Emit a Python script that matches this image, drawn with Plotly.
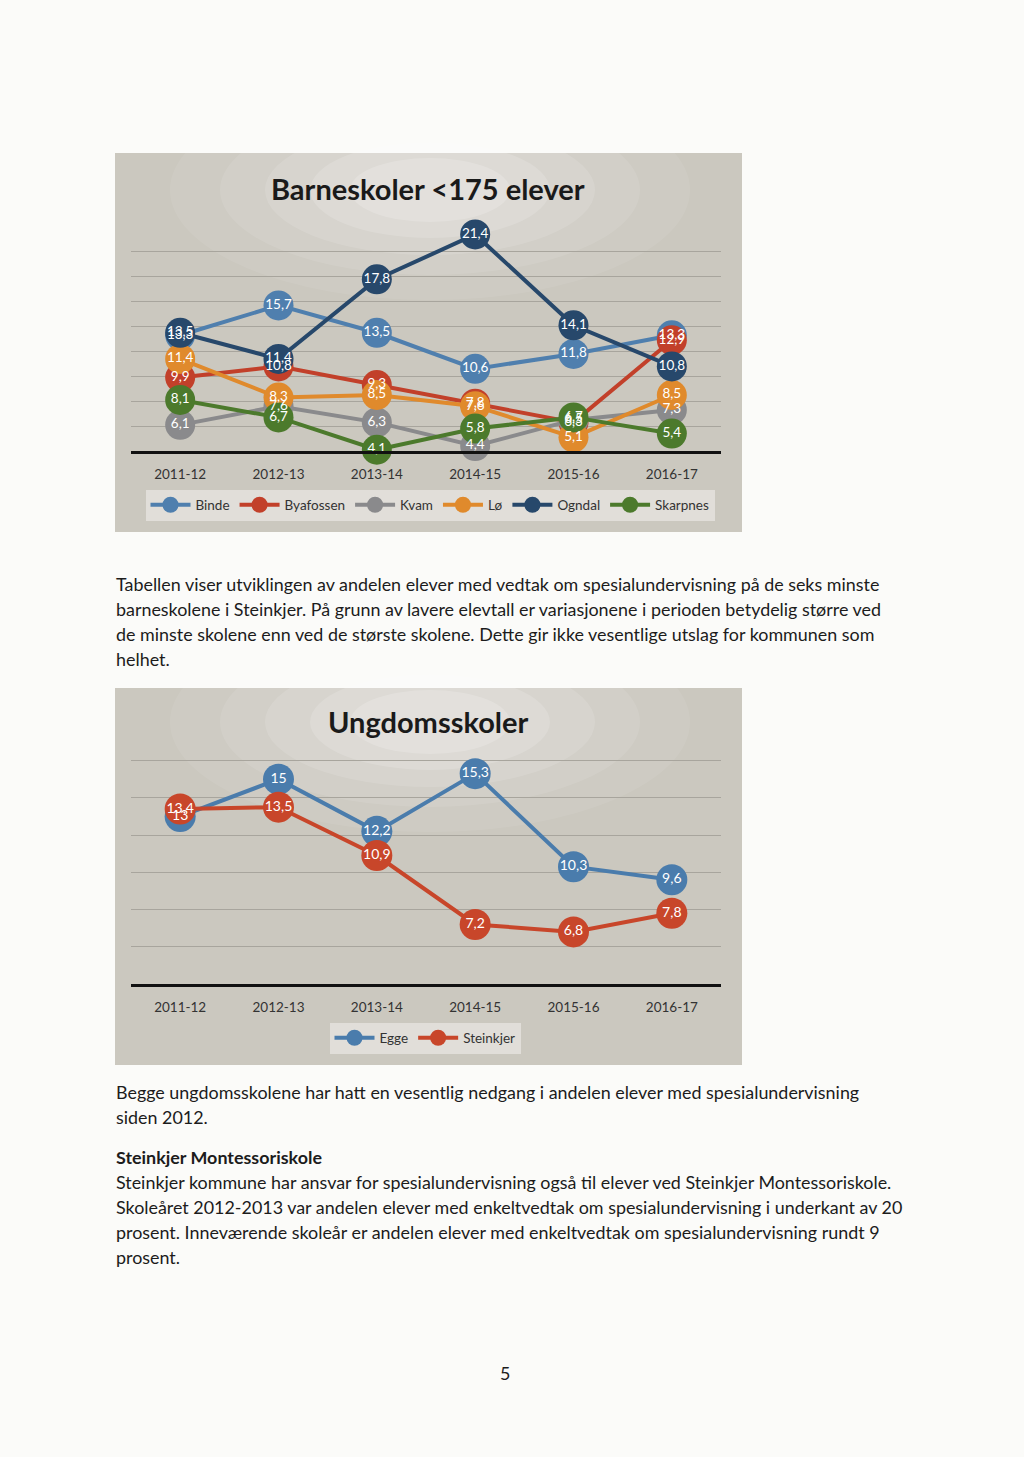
import plotly.graph_objects as go

W, H = 1024, 1457

years = ["2011-12", "2012-13", "2013-14", "2014-15", "2015-16", "2016-17"]

# Chart 1: Barneskoler <175 elever
binde = [13.3, 15.7, 13.5, 10.6, 11.8, 13.3]
byafossen = [9.9, 10.8, 9.3, 7.8, 6.3, 12.9]
kvam = [6.1, 7.6, 6.3, 4.4, 6.5, 7.3]
lo = [11.4, 8.3, 8.5, 7.6, 5.1, 8.5]
ogndal = [13.5, 11.4, 17.8, 21.4, 14.1, 10.8]
skarpnes = [8.1, 6.7, 4.1, 5.8, 6.7, 5.4]

# Chart 2: Ungdomsskoler
egge = [13.0, 15.0, 12.2, 15.3, 10.3, 9.6]
steinkjer = [13.4, 13.5, 10.9, 7.2, 6.8, 7.8]

series1 = [
    ("Binde", binde, "#4f7fae"),
    ("Byafossen", byafossen, "#c2402a"),
    ("Kvam", kvam, "#8a8a8c"),
    ("Lø", lo, "#e08a2c"),
    ("Ogndal", ogndal, "#27486b"),
    ("Skarpnes", skarpnes, "#4c7a2c"),
]
series2 = [
    ("Egge", egge, "#4a7cac"),
    ("Steinkjer", steinkjer, "#c8462a"),
]


def px(x):
    return x / W


def py(y):
    return 1 - y / H


def fmt(v):
    s = ("%g" % v)
    return s.replace(".", ",")


fig = go.Figure()

groups = [(series1, "x", "y", "legend", 30, 13.5), (series2, "x2", "y2", "legend2", 31, 14)]
for series, xa, ya, lg, msize, tsize in groups:
    for name, vals, col in series:
        fig.add_trace(go.Scatter(
            x=years, y=vals, name=name, mode="lines+markers",
            line=dict(color=col, width=4),
            marker=dict(color=col, size=msize),
            xaxis=xa, yaxis=ya, legend=lg, cliponaxis=False,
        ))
    # data labels drawn above all markers (as in the original)
    for name, vals, col in series:
        fig.add_trace(go.Scatter(
            x=years, y=vals, name=name, mode="text", showlegend=False,
            text=[fmt(v) for v in vals], textposition="middle center",
            textfont=dict(color="white", size=tsize, family="Lato"),
            xaxis=xa, yaxis=ya, cliponaxis=False, hoverinfo="skip",
        ))

shapes = []
# chart backgrounds
for (y0, y1, ty) in [(153, 532, 190), (688, 1065, 722)]:
    shapes.append(dict(type="rect", xref="paper", yref="paper", layer="below",
                       x0=px(115), x1=px(742), y0=py(y1), y1=py(y0),
                       fillcolor="#cbc8bf", line=dict(width=0)))
    for rx, ry, op in [(260, 110, 0.07), (210, 85, 0.09), (165, 65, 0.12), (120, 48, 0.15), (80, 32, 0.18)]:
        shapes.append(dict(type="circle", xref="paper", yref="paper", layer="below",
                           x0=px(430 - rx), x1=px(430 + rx), y0=py(ty + ry), y1=py(ty - ry),
                           fillcolor="rgba(255,255,255,%g)" % op, line=dict(width=0)))

axis_common = dict(
    type="category",
    showgrid=False, showline=True, linecolor="#111111", linewidth=2.5,
    ticks="outside", ticklen=9, tickcolor="rgba(0,0,0,0)",
    tickfont=dict(size=13.5, color="#333333", family="Lato"),
    range=[-0.5, 5.5], fixedrange=True,
)

fig.update_layout(
    width=W, height=H,
    margin=dict(l=0, r=0, t=0, b=0),
    paper_bgcolor="#fbfbf9",
    plot_bgcolor="rgba(0,0,0,0)",
    shapes=shapes,
    xaxis=dict(domain=[px(131), px(721)], anchor="y", **axis_common),
    yaxis=dict(domain=[py(451), py(227)], anchor="x", range=[4, 22], dtick=2, tick0=4,
               showgrid=True, gridcolor="#a8a59d", gridwidth=1, zeroline=False,
               showticklabels=False),
    xaxis2=dict(domain=[px(131), px(721)], anchor="y2", **axis_common),
    yaxis2=dict(domain=[py(984), py(742)], anchor="x2", range=[4, 17], dtick=2, tick0=4,
                showgrid=True, gridcolor="#a8a59d", gridwidth=1, zeroline=False,
                showticklabels=False),
    legend=dict(orientation="h", x=px(430), xanchor="center", y=py(505), yanchor="middle",
                bgcolor="rgba(232,230,225,0.75)", font=dict(size=13.5, color="#333333", family="Lato"),
                itemwidth=40, tracegroupgap=0),
    legend2=dict(orientation="h", x=px(425), xanchor="center", y=py(1038), yanchor="middle",
                 bgcolor="rgba(232,230,225,0.75)", font=dict(size=13.5, color="#333333", family="Lato"),
                 itemwidth=40),
    showlegend=True,
)

ann = []
ann.append(dict(text="<b>Barneskoler <175 elever</b>", x=px(428), y=py(188), xref="paper", yref="paper",
                showarrow=False, xanchor="center", yanchor="middle",
                font=dict(size=29, color="#1a1a1a", family="Lato")))
ann.append(dict(text="<b>Ungdomsskoler</b>", x=px(428), y=py(721), xref="paper", yref="paper",
                showarrow=False, xanchor="center", yanchor="middle",
                font=dict(size=29, color="#1a1a1a", family="Lato")))

para_lines = [
    (584, "Tabellen viser utviklingen av andelen elever med vedtak om spesialundervisning på de seks minste", False),
    (609, "barneskolene i Steinkjer. På grunn av lavere elevtall er variasjonene i perioden betydelig større ved", False),
    (634, "de minste skolene enn ved de største skolene. Dette gir ikke vesentlige utslag for kommunen som", False),
    (659, "helhet.", False),
    (1092, "Begge ungdomsskolene har hatt en vesentlig nedgang i andelen elever med spesialundervisning", False),
    (1117, "siden 2012.", False),
    (1157, "Steinkjer Montessoriskole", True),
    (1182, "Steinkjer kommune har ansvar for spesialundervisning også til elever ved Steinkjer Montessoriskole.", False),
    (1207, "Skoleåret 2012-2013 var andelen elever med enkeltvedtak om spesialundervisning i underkant av 20", False),
    (1232, "prosent. Inneværende skoleår er andelen elever med enkeltvedtak om spesialundervisning rundt 9", False),
    (1257, "prosent.", False),
]
for y, t, b in para_lines:
    ann.append(dict(text=("<b>%s</b>" % t) if b else t, x=px(114), y=py(y), xref="paper", yref="paper",
                    showarrow=False, xanchor="left", yanchor="middle", align="left",
                    font=dict(size=17.9, color="#1c1c1c", family="Lato")))
ann.append(dict(text="5", x=px(505), y=py(1373), xref="paper", yref="paper", showarrow=False,
                xanchor="center", yanchor="middle", font=dict(size=17.9, color="#1c1c1c", family="Lato")))

fig.update_layout(annotations=ann)

fig.write_html("out.html")
